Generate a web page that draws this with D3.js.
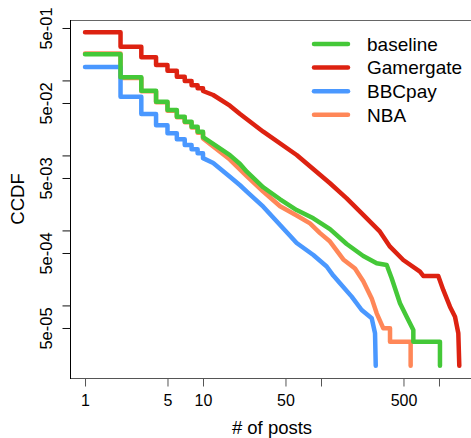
<!DOCTYPE html>
<html><head><meta charset="utf-8">
<script src="https://cdn.jsdelivr.net/npm/d3@7/dist/d3.min.js"></script>
<style>
body{margin:0;background:#fff}
svg{display:block}
text{font-family:"Liberation Sans",Arial,Helvetica,sans-serif;fill:#000}
</style>
</head><body>
<svg id="chart" width="471" height="438"></svg>
<script>
// ---------- data ----------
const seriesNames = ["baseline", "Gamergate", "BBCpay", "NBA"];

const baseline = [
  [1,0.2230],[2,0.1100],[3,0.0729],[4,0.0520],[5,0.0403],[6,0.0328],[7,0.0282],[8,0.0242],[9,0.0207],[10,0.0175],
  [12.2,0.0142],[16.9,0.0101],[20.6,0.00769],[23.5,0.00607],[32.4,0.00376],[45.0,0.0026],[62.2,0.00187],
  [86.1,0.00145],[119.2,0.00104],[165.1,0.000659],[228.2,0.000456],[296.5,0.000364],[360.5,0.000346],
  [397.2,0.000230],[467,0.000107],[532,0.0000707],[606,0.0000470],[606,0.0000328],[1019,0.0000328],[1019,0.0000157]
];
const gamergate = [
  [1,0.438],[2,0.2816],[3,0.2033],[4,0.1606],[5,0.1348],[6,0.1121],[7,0.0982],[8,0.0861],[9,0.0785],[10,0.0723],
  [12.2,0.0639],[16.9,0.046],[20.6,0.0357],[32.4,0.0207],[62.2,0.01013],[119.2,0.00425],[165.1,0.00268],
  [228.2,0.00161],[316,0.000962],[384.5,0.000607],[498,0.000403],[690,0.000282],[736,0.000247],[986,0.000247],
  [1087,0.000161],[1239,0.0000962],[1367,0.0000707],[1458,0.0000425],[1486,0.0000157]
];
const bbcpay = [
  [1,0.1510],[2,0.0607],[3,0.0357],[4,0.0252],[5,0.0197],[6,0.0164],[7,0.0138],[8,0.0121],[9,0.01067],[10,0.0092],
  [12.2,0.0079],[16.9,0.0052],[20.6,0.0040],[23.5,0.0033],[32.4,0.00207],[45.0,0.00118],[62.2,0.00068],
  [86.1,0.00047],[111.7,0.00033],[127.1,0.00025],[144.9,0.000197],[182,0.000131],[221.2,0.0000869],
  [269,0.0000673],[287,0.0000425],[291,0.0000157]
];
const nba = [
  [1,0.2286],[2,0.1080],[3,0.0715],[4,0.0510],[5,0.0395],[6,0.0322],[7,0.0276],[8,0.0236],[9,0.0200],[10,0.0168],
  [12.2,0.0132],[16.9,0.0088],[23.5,0.0053],[32.4,0.0033],[45.0,0.0021],[62.2,0.00158],[80.7,0.00124],
  [98.1,0.00092],[119.2,0.00071],[154.5,0.00041],[194.1,0.00031],[228.2,0.00021],[269,0.000124],
  [296.5,0.0000785],[337.5,0.0000495],[384.5,0.0000495],[384.5,0.0000328],[575,0.0000328],[575,0.0000157]
];

const xTickValues = [1, 5, 10, 50, 100, 500, 1000];
const xTickLabels = ["1", "5", "10", "50", "", "500", ""];
const yTickValues = [5e-1, 1e-1, 5e-2, 1e-2, 5e-3, 1e-3, 5e-4, 1e-4, 5e-5];
const yTickLabels = ["5e-01", "", "5e-02", "", "5e-03", "", "5e-04", "", "5e-05"];

const xTitle = "# of posts";
const yTitle = "CCDF";

// ---------- styles ----------
const colors = {baseline:"#44C838", Gamergate:"#DD2211", BBCpay:"#4A98FF", NBA:"#FF8758"};
const seriesData = {baseline: baseline, Gamergate: gamergate, BBCpay: bbcpay, NBA: nba};
const drawOrder = ["NBA", "BBCpay", "Gamergate", "baseline"];
const stepCount = 10; // integer steps drawn as staircase

const L = 70, R = 474, T = 20, B = 378;
const svg = d3.select("#chart");

const x = d3.scaleLog().domain([0.746, 1980]).range([L, R]);
const y = d3.scaleLog().domain([1.077e-5, 0.639]).range([B, T]);

// frame
svg.append("line").attr("x1", L).attr("x2", 471).attr("y1", T + 0.5).attr("y2", T + 0.5)
  .attr("stroke", "#666").attr("stroke-width", 1);
svg.append("line").attr("x1", L).attr("x2", 471).attr("y1", B + 0.5).attr("y2", B + 0.5)
  .attr("stroke", "#555").attr("stroke-width", 1);
svg.append("line").attr("x1", L + 0.5).attr("x2", L + 0.5).attr("y1", T).attr("y2", B + 1)
  .attr("stroke", "#000").attr("stroke-width", 1);

// x axis
const xAxis = svg.append("g").attr("transform", `translate(0,${B + 0.5})`)
  .call(d3.axisBottom(x).tickValues(xTickValues)
    .tickFormat((d, i) => xTickLabels[i]).tickSize(8).tickSizeOuter(0));
xAxis.select(".domain").remove();
xAxis.selectAll(".tick line").attr("stroke", "#555");
xAxis.selectAll(".tick text").attr("y", 27.5).attr("dy", 0)
  .style("font-size", "16px").attr("fill", "#000")
  .style("font-family", '"Liberation Sans",Arial,sans-serif');

// y axis
const yAxis = svg.append("g").attr("transform", `translate(${L + 0.5},0)`)
  .call(d3.axisLeft(y).tickValues(yTickValues)
    .tickFormat((d, i) => yTickLabels[i]).tickSize(8).tickSizeOuter(0));
yAxis.select(".domain").remove();
yAxis.selectAll(".tick line").attr("stroke", "#111");
yAxis.selectAll(".tick text")
  .attr("x", 0).attr("y", -18.5).attr("dy", 0)
  .attr("transform", "rotate(-90)")
  .attr("text-anchor", "middle")
  .style("font-size", "16.5px").attr("fill", "#000")
  .style("font-family", '"Liberation Sans",Arial,sans-serif');

// titles
svg.append("text").attr("x", (L + R) / 2).attr("y", 433.5)
  .attr("text-anchor", "middle").style("font-size", "18.5px").text(xTitle);
svg.append("text").attr("transform", `translate(24,${(T + B) / 2}) rotate(-90)`)
  .attr("text-anchor", "middle").style("font-size", "18.5px").text(yTitle);

// series
const stepLine = d3.line().x(d => x(d[0])).y(d => y(d[1])).curve(d3.curveStepAfter);
const linLine = d3.line().x(d => x(d[0])).y(d => y(d[1]));
drawOrder.forEach(name => {
  const pts = seriesData[name];
  const p = stepLine(pts.slice(0, stepCount)) + linLine(pts.slice(stepCount - 1)).replace(/^M/, "L");
  svg.append("path").attr("d", p).attr("fill", "none")
    .attr("stroke", colors[name]).attr("stroke-width", 4.5)
    .attr("stroke-linejoin", "round").attr("stroke-linecap", "round");
});

// legend
const leg = svg.append("g");
seriesNames.forEach((name, i) => {
  const ly = 44 + i * 23.6;
  leg.append("line").attr("x1", 314).attr("x2", 348).attr("y1", ly).attr("y2", ly)
    .attr("stroke", colors[name]).attr("stroke-width", 4.5).attr("stroke-linecap", "round");
  leg.append("text").attr("x", 367).attr("y", ly + 6.8)
    .style("font-size", "19px").text(name);
});
</script>
</body></html>
